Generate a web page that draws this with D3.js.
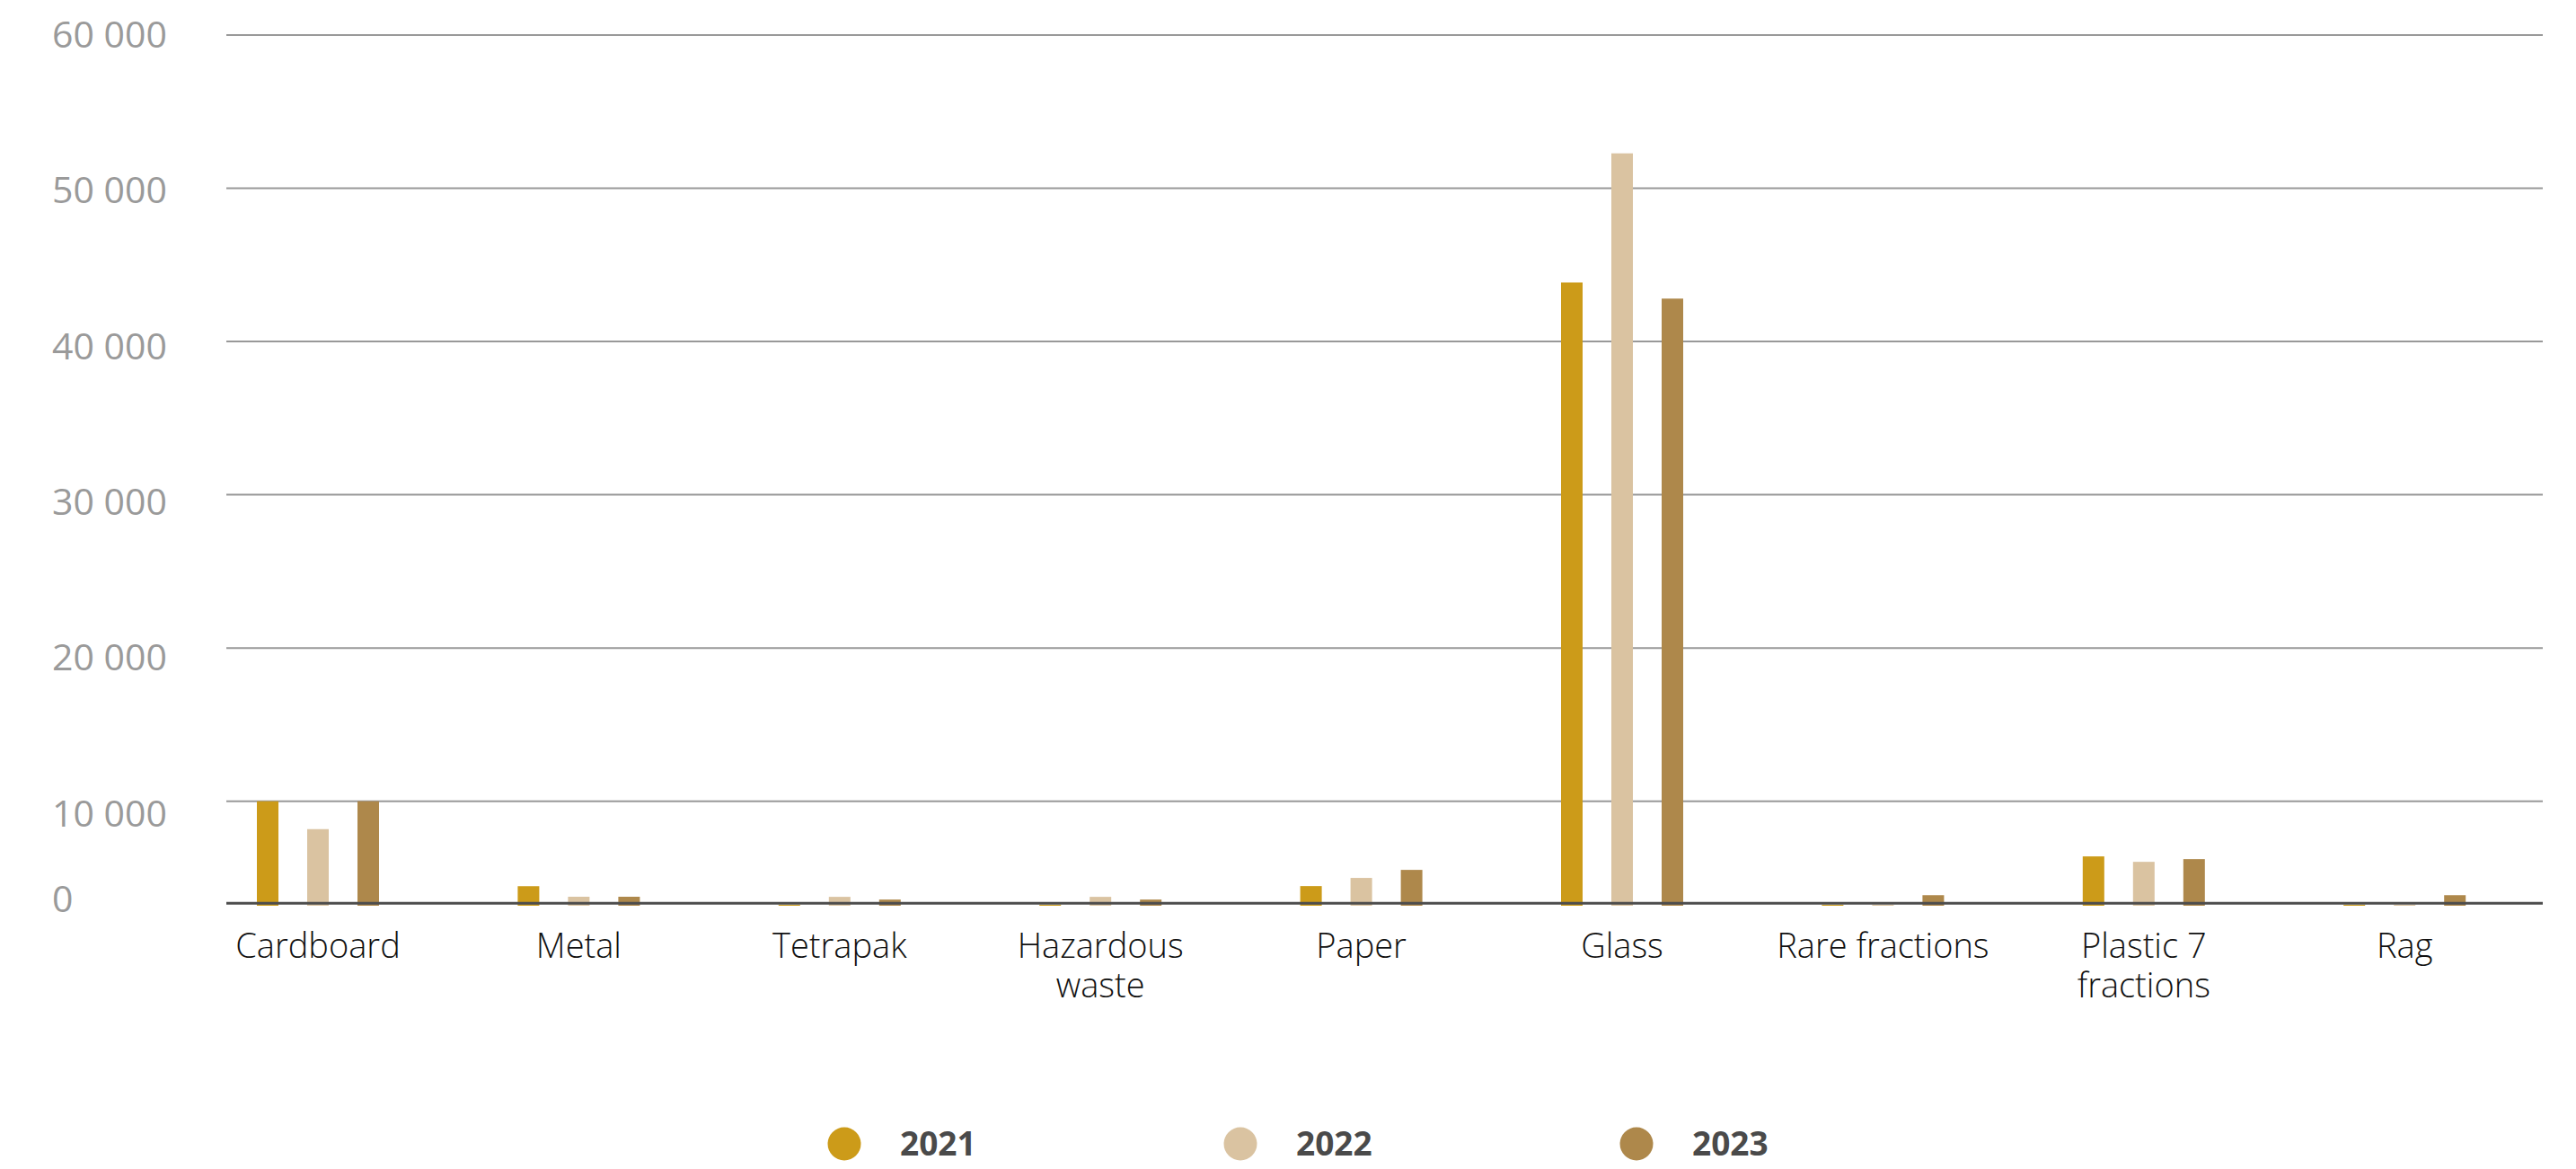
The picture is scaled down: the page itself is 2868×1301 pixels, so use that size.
<!DOCTYPE html>
<html>
<head>
<meta charset="utf-8">
<script src="https://cdn.jsdelivr.net/npm/d3@7"></script>
<style>
  html, body { margin: 0; padding: 0; background: #ffffff; }
  svg { display: block; }
</style>
</head>
<body>
<svg id="chart" width="2868" height="1301"></svg>
<script>
// Waste fractions collected per year (tonnes)
const categories = ["Cardboard", "Metal", "Tetrapak", "Hazardous waste", "Paper", "Glass", "Rare fractions", "Plastic 7 fractions", "Rag"];
const years = ["2021", "2022", "2023"];
const values2021 = [10000, 1870, 100, 100, 1880, 43850, 100, 4720, 100];
const values2022 = [7330, 860, 850, 850, 2660, 52280, 100, 4200, 100];
const values2023 = [10000, 860, 590, 590, 3430, 42800, 1010, 4460, 1010];
const yTicks = [0, 10000, 20000, 30000, 40000, 50000, 60000];
const yearColors = ["#cc9b19", "#dac3a1", "#ae884b"];

const seriesValues = [values2021, values2022, values2023];

const svg = d3.select("#chart");

const plotLeft = 252, plotRight = 2831;

// Category groups and bars within each group
const x0 = d3.scaleBand().domain(categories).range([208.8, 2822.4]).padding(0);
const x1 = d3.scaleBand().domain(years).range([0, 168]).padding(0);
const barWidth = 24;

// Value axis: the first step (0–10 000) is compressed relative to the rest
const y = d3.scaleLinear().domain([0, 10000, 60000]).range([1008, 891.7, 39]);
// Positions of the value labels beside the gridlines
const yLabel = d3.scaleLinear().domain([0, 10000, 60000]).range([1000, 905, 38]);

const color = d3.scaleOrdinal().domain(years).range(yearColors);

// Gridlines
svg.append("g")
  .selectAll("line")
  .data(yTicks.filter(d => d > 0))
  .join("line")
  .attr("x1", plotLeft)
  .attr("x2", plotRight)
  .attr("y1", d => y(d))
  .attr("y2", d => y(d))
  .attr("stroke", "#999999")
  .attr("stroke-width", 2);

// Value labels
svg.append("g")
  .selectAll("text")
  .data(yTicks)
  .join("text")
  .attr("x", 58)
  .attr("y", d => yLabel(d))
  .attr("dy", "0.36em")
  .attr("font-family", "'Open Sans', sans-serif")
  .attr("font-size", 41)
  .attr("fill", "#9a9a9a")
  .text(d => d3.format(",")(d).replace(/,/g, " "));

// Bars
const rows = categories.map((c, i) => ({
  category: c,
  values: years.map((yr, j) => ({ year: yr, value: seriesValues[j][i] }))
}));

const groups = svg.append("g")
  .selectAll("g")
  .data(rows)
  .join("g")
  .attr("transform", d => `translate(${x0(d.category) + x0.bandwidth() / 2 - 84},0)`);

groups.selectAll("rect")
  .data(d => d.values)
  .join("rect")
  .attr("x", d => x1(d.year) + (x1.bandwidth() - barWidth) / 2)
  .attr("width", barWidth)
  .attr("y", d => y(d.value))
  .attr("height", d => y(0) - y(d.value))
  .attr("fill", d => color(d.year));

// Baseline
svg.append("line")
  .attr("x1", plotLeft)
  .attr("x2", plotRight)
  .attr("y1", 1005.3)
  .attr("y2", 1005.3)
  .attr("stroke", "#4d4d4d")
  .attr("stroke-width", 3);

// Category labels, wrapped onto two lines when too wide
const catLabels = svg.append("g")
  .selectAll("text")
  .data(categories)
  .join("text")
  .attr("x", d => x0(d) + x0.bandwidth() / 2)
  .attr("y", 1066)
  .attr("text-anchor", "middle")
  .attr("font-family", "'Open Sans', sans-serif")
  .attr("font-weight", 300)
  .attr("font-size", 38)
  .attr("fill", "#111111");

catLabels.each(function(d) {
  const t = d3.select(this);
  const cx = x0(d) + x0.bandwidth() / 2;
  t.text(d);
  if (this.getComputedTextLength() > 260) {
    const words = d.split(" ");
    const last = words.pop();
    t.text(null);
    t.append("tspan").attr("x", cx).attr("dy", 0).text(words.join(" "));
    t.append("tspan").attr("x", cx).attr("dy", 44).text(last);
  }
});

// Legend
const legend = svg.append("g")
  .selectAll("g")
  .data(years)
  .join("g")
  .attr("transform", (d, i) => `translate(${940 + i * 441},1273)`);

legend.append("circle")
  .attr("r", 18.5)
  .attr("fill", d => color(d));

legend.append("text")
  .attr("x", 62)
  .attr("dy", "0.36em")
  .attr("font-family", "'Open Sans', sans-serif")
  .attr("font-weight", 700)
  .attr("font-size", 37)
  .attr("fill", "#4a4a4a")
  .text(d => d);
</script>
</body>
</html>
